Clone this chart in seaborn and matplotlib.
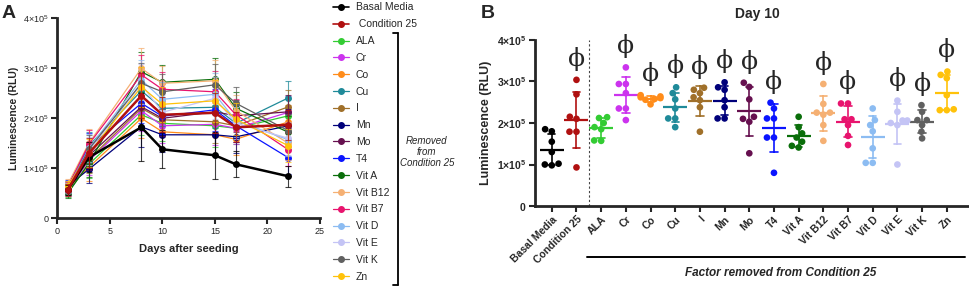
import numpy as np
import pandas as pd
import matplotlib
matplotlib.use("Agg")
import matplotlib.pyplot as plt
import seaborn as sns
from matplotlib.lines import Line2D

sns.set_theme(style="ticks")
plt.rcParams["font.family"] = ["Liberation Sans", "DejaVu Sans"]
plt.rcParams["mathtext.fontset"] = "custom"
plt.rcParams["mathtext.rm"] = "Liberation Sans"
plt.rcParams["mathtext.bf"] = "Liberation Sans:bold"
plt.rcParams["mathtext.it"] = "Liberation Sans:italic"

# ---------------- data: panel A (x 1e5 RLU) ----------------
days = [1, 3, 8, 10, 15, 17, 22]
series_names = ["Basal Media", " Condition 25", "ALA", "Cr", "Co", "Cu", "I", "Mn", "Mo",
                "T4", "Vit A", "Vit B12", "Vit B7", "Vit D", "Vit E", "Vit K", "Zn"]
series_colors = ["#000000", "#b01010", "#33cc33", "#cc33ee", "#ff8c1a", "#1f8a99", "#a0702a",
                 "#00007a", "#66104f", "#0a14ff", "#0a6e0a", "#f5b073", "#e8146e", "#8cbcf2",
                 "#c4c4f5", "#606060", "#ffc20a"]

basal_media = [0.57, 1.22, 1.82, 1.38, 1.26, 1.08, 0.84]
condition_25 = [0.57, 1.30, 2.45, 2.07, 2.11, 1.82, 1.87]
ala = [0.52, 1.08, 2.07, 1.90, 1.85, 1.80, 2.05]
cr = [0.55, 1.15, 2.15, 1.85, 1.88, 1.80, 2.12]
co = [0.60, 1.02, 2.00, 1.73, 1.67, 1.58, 1.93]
cu = [0.62, 1.45, 2.55, 2.20, 2.22, 1.90, 2.41]
iodine = [0.58, 1.18, 2.20, 1.97, 1.93, 1.85, 2.23]
mn = [0.65, 0.98, 1.83, 1.67, 1.67, 1.63, 1.85]
mo = [0.56, 1.25, 2.23, 2.00, 2.13, 2.05, 2.13]
t4 = [0.66, 1.42, 2.30, 2.04, 2.17, 1.85, 1.21]
vit_a = [0.50, 1.10, 2.93, 2.72, 2.78, 2.20, 1.72]
vit_b12 = [0.68, 1.50, 3.00, 2.70, 2.75, 2.15, 1.50]
vit_b7 = [0.62, 1.48, 2.87, 2.58, 2.53, 2.07, 1.37]
vit_d = [0.60, 1.40, 2.77, 2.38, 2.48, 1.95, 1.57]
vit_e = [0.54, 1.35, 2.68, 2.12, 2.40, 1.90, 1.60]
vit_k = [0.58, 1.38, 2.70, 2.53, 2.67, 2.30, 1.75]
zn = [0.64, 1.30, 2.63, 2.28, 2.35, 1.98, 1.45]
series_values = [basal_media, condition_25, ala, cr, co, cu, iodine, mn, mo, t4,
                 vit_a, vit_b12, vit_b7, vit_d, vit_e, vit_k, zn]

sd_basal = [0.10, 0.30, 0.68, 0.38, 0.47, 0.26, 0.21]
sd_cond25 = [0.12, 0.30, 0.45, 0.35, 0.40, 0.30, 0.30]
sd_removed = [0.10, 0.28, 0.40, 0.35, 0.42, 0.32, 0.33]

# ---------------- data: panel B, day 10 replicates (x 1e5 RLU) ----------------
groups_b = ["Basal Media", "Condition 25", "ALA", "Cr", "Co", "Cu", "I", "Mn", "Mo", "T4",
            "Vit A", "Vit B12", "Vit B7", "Vit D", "Vit E", "Vit K", "Zn"]
d10_basal = [1.85, 1.80, 1.55, 1.30, 1.02, 1.00, 0.98]
d10_cond25 = [3.04, 2.69, 2.15, 2.10, 1.79, 1.79, 0.93]
d10_ala = [2.12, 2.14, 2.00, 1.90, 1.85, 1.58, 1.57]
d10_cr = [3.34, 2.94, 2.94, 2.72, 2.35, 2.35, 2.07]
d10_co = [2.67, 2.64, 2.62, 2.60, 2.58, 2.56, 2.45]
d10_cu = [2.86, 2.72, 2.57, 2.35, 2.11, 2.11, 1.90]
d10_i = [2.85, 2.80, 2.72, 2.62, 2.55, 2.38, 1.79]
d10_mn = [2.98, 2.86, 2.80, 2.55, 2.38, 2.11, 2.11]
d10_mo = [2.97, 2.87, 2.57, 2.15, 2.10, 2.03, 1.27]
d10_t4 = [2.49, 2.35, 2.11, 2.11, 1.65, 1.65, 0.80]
d10_vit_a = [2.15, 1.90, 1.75, 1.65, 1.55, 1.45, 1.41]
d10_vit_b12 = [2.94, 2.46, 2.25, 2.25, 2.20, 1.95, 1.57]
d10_vit_b7 = [2.47, 2.47, 2.09, 2.09, 1.95, 1.69, 1.47]
d10_vit_d = [2.35, 2.07, 1.95, 1.80, 1.39, 1.04, 1.04]
d10_vit_e = [2.54, 2.27, 2.06, 2.06, 2.00, 1.95, 1.00]
d10_vit_k = [2.43, 2.27, 2.07, 2.07, 1.95, 1.79, 1.63]
d10_zn = [3.24, 3.16, 3.08, 2.67, 2.33, 2.31, 2.31]
day10_values = [d10_basal, d10_cond25, d10_ala, d10_cr, d10_co, d10_cu, d10_i, d10_mn,
                d10_mo, d10_t4, d10_vit_a, d10_vit_b12, d10_vit_b7, d10_vit_d, d10_vit_e,
                d10_vit_k, d10_zn]
phi_groups = ["Condition 25", "Cr", "Co", "Cu", "I", "Mn", "Mo", "T4",
              "Vit B12", "Vit B7", "Vit E", "Vit K", "Zn"]

tick_mantissas = [0, 1, 2, 3, 4]
labels_a = ["0"] + [r"$%d{\times}10^{5}$" % m for m in tick_mantissas[1:]]
labels_b = [r"$\mathbf{0}$"] + [r"$\mathbf{%d{\times}10^{5}}$" % m for m in tick_mantissas[1:]]

W, H = 969, 287
fig = plt.figure(figsize=(W / 100, H / 100), dpi=100)


def fx(px):
    return px / W


def fy(py):
    return 1 - py / H


# ---------------- Panel A ----------------
axA = fig.add_axes([fx(57.3), fy(218.3), fx(320 - 57.3), (218.3 - 18.3) / H])
order = list(range(2, len(series_names))) + [0, 1]
for k, i in enumerate(order):
    name, vals, col = series_names[i], series_values[i], series_colors[i]
    main = i in (0, 1)
    sd = sd_basal if i == 0 else (sd_cond25 if i == 1 else sd_removed)
    y = np.array(vals) * 1e5
    z = 2 + k * 0.1
    axA.errorbar(days, y, yerr=np.array(sd) * 1e5, fmt="none", ecolor=col,
                 elinewidth=0.8, capsize=2.5, capthick=0.8, alpha=0.75, zorder=z)
    sns.lineplot(x=days, y=y, ax=axA, color=col, marker="o", markersize=5,
                 markeredgewidth=0, linewidth=1.8 if main else 0.9, zorder=z + 0.05)

axA.set_xlim(0, 25)
axA.set_ylim(0, 4e5)
axA.set_xticks([0, 5, 10, 15, 20, 25])
axA.set_yticks([m * 1e5 for m in tick_mantissas])
axA.set_yticklabels(labels_a)
axA.set_xlabel("Days after seeding", fontsize=8, fontweight="bold", labelpad=6)
axA.set_ylabel("Luminescence (RLU)", fontsize=7.5, fontweight="bold", labelpad=3)
sns.despine(ax=axA)
for s in ("left", "bottom"):
    axA.spines[s].set_linewidth(2)
axA.tick_params(width=1.5, length=4, labelsize=6.5, pad=2)

# legend for panel A
handles = [Line2D([], [], color=c, marker="o", markersize=4, lw=1.2 if i < 2 else 0.9)
           for i, c in enumerate(series_colors)]
fig.legend(handles, series_names, loc="upper left", bbox_to_anchor=(fx(333), fy(2.5)),
           frameon=False, fontsize=7.5, labelspacing=0.655, handlelength=1.5,
           handletextpad=0.7, borderpad=0, borderaxespad=0)

# bracket
bx = fx(398.3)
fig.add_artist(Line2D([bx, bx], [fy(33), fy(285)], color="black", lw=1.3))
fig.add_artist(Line2D([fx(392.5), bx], [fy(33), fy(33)], color="black", lw=1.3))
fig.add_artist(Line2D([fx(392.5), bx], [fy(285), fy(285)], color="black", lw=1.3))
fig.text(fx(426.7), fy(152), "Removed\nfrom\nCondition 25", ha="center", va="center",
         fontsize=7, style="italic", linespacing=1.15)

# ---------------- Panel B ----------------
axB = fig.add_axes([fx(535), fy(206), fx(968 - 535), (206 - 40) / H])
df = pd.DataFrame({
    "group": np.repeat(groups_b, [len(v) for v in day10_values]),
    "value": np.concatenate(day10_values) * 1e5,
})
pal = dict(zip(groups_b, series_colors))
sns.swarmplot(data=df, x="group", y="value", hue="group", palette=pal, order=groups_b,
              size=4.8, ax=axB, legend=False, zorder=3)
sns.pointplot(data=df, x="group", y="value", hue="group", palette=pal, order=groups_b,
              errorbar="sd", markers="_", markersize=17, markeredgewidth=1.6,
              linestyle="none", capsize=0.3, err_kws={"linewidth": 1.2},
              ax=axB, legend=False)

axB.axvline(1.5, color="#444444", lw=0.8, ls=(0, (2, 2)), zorder=1)

for g in phi_groups:
    idx = groups_b.index(g)
    top = max(day10_values[idx]) * 1e5
    axB.text(idx, top + 0.22e5, "ϕ", ha="center", va="bottom", fontsize=18,
             family=["DejaVu Serif"], clip_on=False)

axB.set_xlim(-0.68, 16.86)
axB.set_ylim(0, 4e5)
axB.set_yticks([m * 1e5 for m in tick_mantissas])
axB.set_yticklabels(labels_b)
axB.set_xlabel("")
axB.set_ylabel("Luminescence (RLU)", fontsize=9, fontweight="bold", labelpad=4)
sns.despine(ax=axB)
for s in ("left", "bottom"):
    axB.spines[s].set_linewidth(2)
axB.tick_params(width=1.5, length=4, labelsize=7.5, pad=2)
axB.set_xticks(range(len(groups_b)))
axB.set_xticklabels(groups_b, rotation=45, ha="right", rotation_mode="anchor",
                    fontsize=7.5, fontweight="bold")

fig.text(fx(757), fy(14), "Day 10", ha="center", va="center", fontsize=10, fontweight="bold")
fig.add_artist(Line2D([fx(587), fx(965)], [fy(256.7), fy(256.7)], color="black", lw=1.4))
fig.text(fx(781), fy(272.5), "Factor removed from Condition 25", ha="center", va="center",
         fontsize=8.5, fontweight="bold", style="italic")

fig.text(fx(2), fy(13), "A", ha="left", va="center", fontsize=14, fontweight="bold")
fig.text(fx(481), fy(13), "B", ha="left", va="center", fontsize=14, fontweight="bold")

fig.savefig("out.png", dpi=100)
